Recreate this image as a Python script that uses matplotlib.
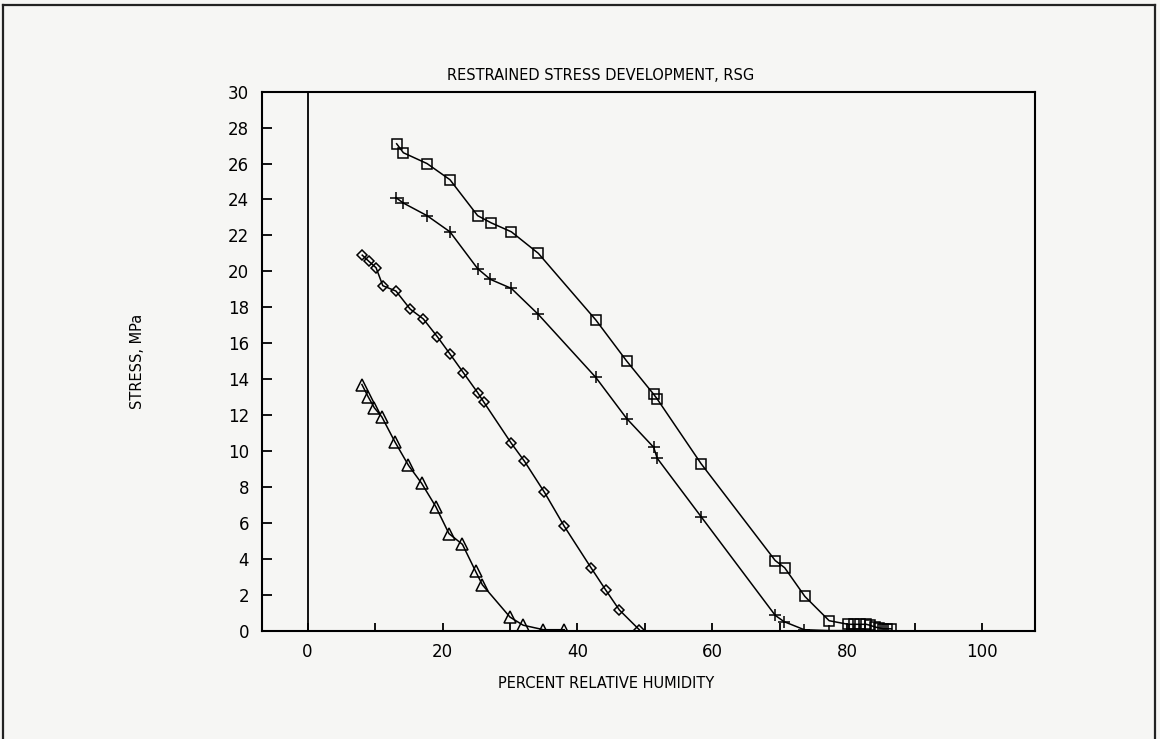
import numpy as np
import matplotlib
matplotlib.use('Agg')
import matplotlib.pyplot as plt
from matplotlib.lines import Line2D

plt.rcParams['font.family'] = 'DejaVu Sans'

# percent relative humidity / stress (MPa)
rh_square = [13.2, 14.2, 17.7, 21.1, 25.2, 27.2, 30.2, 34.2, 42.7, 47.3, 51.3, 51.8,
             58.3, 69.3, 70.7, 73.7, 77.3, 80.1, 81.0, 81.9, 82.8, 83.3, 84.1, 84.7,
             85.3, 85.9, 86.5]
stress_square = [27.1, 26.6, 26.0, 25.1, 23.1, 22.7, 22.2, 21.0, 17.3, 15.0, 13.15, 12.9,
                 9.3, 3.9, 3.5, 1.9, 0.55, 0.35, 0.35, 0.35, 0.35, 0.3, 0.2, 0.15,
                 0.1, 0.1, 0.1]

rh_plus = [13.1, 14.2, 17.7, 21.1, 25.2, 27.1, 30.2, 34.2, 42.7, 47.3, 51.3, 51.8,
           58.3, 69.3, 70.6, 73.6, 77.3, 80.2, 81.0, 81.8, 82.6]
stress_plus = [24.1, 23.8, 23.1, 22.2, 20.15, 19.55, 19.05, 17.6, 14.1, 11.8, 10.2, 9.6,
               6.35, 0.85, 0.5, 0.05, 0.0, 0.0, 0.0, 0.0, 0.0]

rh_diamond = [8.1, 9.1, 10.15, 11.15, 13.1, 15.2, 17.15, 19.25, 21.1, 23.1, 25.2, 26.15,
              30.15, 32.1, 35.1, 38.05, 42.0, 44.2, 46.2, 49.15]
stress_diamond = [20.9, 20.55, 20.2, 19.2, 18.9, 17.9, 17.35, 16.35, 15.4, 14.35, 13.25, 12.7,
                  10.45, 9.45, 7.7, 5.8, 3.5, 2.25, 1.15, 0.05]

rh_triangle = [8.05, 9.0, 9.9, 11.0, 12.95, 14.95, 16.9, 19.0, 20.95, 22.95, 24.9, 25.9,
               30.0, 31.95, 34.95, 38.05]
stress_triangle = [13.7, 13.0, 12.4, 11.9, 10.5, 9.2, 8.2, 6.9, 5.4, 4.8, 3.3, 2.55,
                   0.75, 0.3, 0.05, 0.05]

x_major = [0, 20, 40, 60, 80, 100]
x_minor = [10, 30, 50, 70, 90]
y_ticks = list(range(0, 31, 2))

paper = '#f6f6f4'
W, H = 1160, 739
fig = plt.figure(figsize=(W / 100, H / 100), dpi=100, facecolor=paper)
ax = fig.add_axes([261.7 / W, 1 - 630.6 / H, (1035 - 261.7) / W, (630.6 - 91.7) / H])
ax.set_facecolor(paper)

style = dict(color='black', lw=1.1, mfc='none', mec='black', mew=1.1)
ax.plot(rh_square, stress_square, marker='s', ms=7, **style)
ax.plot(rh_plus, stress_plus, marker='+', ms=9, **style)
ax.plot(rh_diamond, stress_diamond, marker='D', ms=5.5, **style)
ax.plot(rh_triangle, stress_triangle, marker='^', ms=8.5, **style)

ax.axvline(0, color='black', lw=1.3)

ax.set_xlim(-6.8, 107.8)
ax.set_ylim(0, 30)
ax.set_xticks(x_major)
ax.set_xticks(x_minor, minor=True)
ax.set_yticks(y_ticks)
ax.tick_params(axis='both', which='both', direction='in', width=1.3,
               labelsize=12, top=False, right=False)
ax.tick_params(axis='x', which='both', length=6, pad=9)
ax.tick_params(axis='y', length=7.5, pad=9)
for sp in ax.spines.values():
    sp.set_linewidth(1.5)

fig.text(601 / W, 1 - 75 / H, 'RESTRAINED STRESS DEVELOPMENT, RSG',
         ha='center', va='center', fontsize=10.5)
fig.text(606 / W, 1 - 683 / H, 'PERCENT RELATIVE HUMIDITY',
         ha='center', va='center', fontsize=10.5)
fig.text(137 / W, 1 - 361 / H, 'STRESS, MPa', rotation=90,
         ha='center', va='center', fontsize=10.5)

# page frame of the scanned figure
frame = dict(color='#222222', lw=1.6, transform=fig.transFigure)
fig.add_artist(Line2D([3 / W, 1155 / W], [1 - 5 / H, 1 - 5 / H], **frame))
fig.add_artist(Line2D([3 / W, 3 / W], [0, 1 - 5 / H], **frame))
fig.add_artist(Line2D([1155 / W, 1155 / W], [0, 1 - 5 / H], **frame))

fig.savefig('out.png', dpi=100, facecolor=paper)
